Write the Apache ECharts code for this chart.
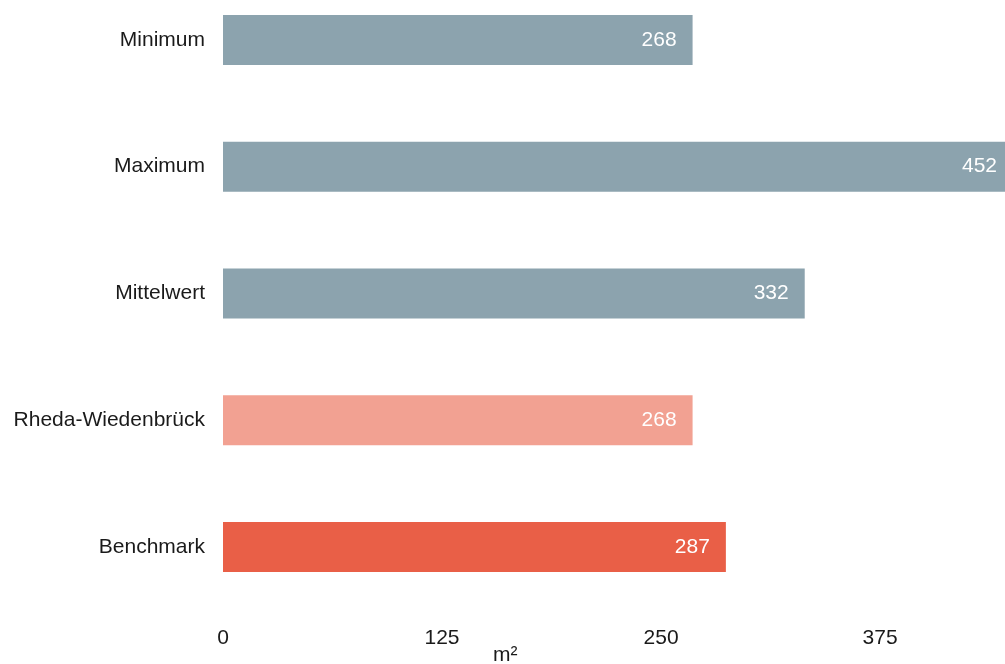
<!DOCTYPE html>
<html>
<head>
<meta charset="utf-8">
<script src="https://cdn.jsdelivr.net/npm/echarts@6/dist/echarts.min.js"></script>
<style>html,body{margin:0;padding:0;background:#fff;}#c{width:1005px;height:664px;}</style>
</head>
<body>
<div id="c"></div>
<script>
const categories = ["Minimum", "Maximum", "Mittelwert", "Rheda-Wiedenbrück", "Benchmark"];
const values = [268, 452, 332, 268, 287];
const barColors = ["#8CA3AE", "#8CA3AE", "#8CA3AE", "#F2A192", "#E95F47"];
const tickValues = [0, 125, 250, 375];
const axisName = "m²";

const FONT = '"Liberation Sans", Arial, Helvetica, sans-serif';
const X_MAX = 446.3;
const chart = echarts.init(document.getElementById('c'), null, {renderer: 'canvas'});
chart.setOption({
  animation: false,
  grid: {left: 223, right: 0, top: -23.5, bottom: 53.5, containLabel: false, outerBoundsMode: 'none'},
  xAxis: {
    type: 'value', min: 0, max: X_MAX, interval: 125,
    axisLine: {show: false}, axisTick: {show: false}, splitLine: {show: false},
    axisLabel: {
      color: '#1a1a1a', fontSize: 21, fontFamily: FONT, margin: 17,
      showMaxLabel: false,
      formatter: v => tickValues.includes(v) ? String(v) : ''
    }
  },
  yAxis: {
    type: 'category', data: categories, inverse: true,
    axisLine: {show: false}, axisTick: {show: false}, splitLine: {show: false},
    axisLabel: {color: '#1a1a1a', fontSize: 21, fontFamily: FONT, margin: 18, padding: [3, 0, 0, 0]}
  },
  graphic: [{
    type: 'text', left: 493, top: 645,
    style: {text: axisName, fill: '#1a1a1a', font: '21px ' + FONT}
  }],
  series: [{
    type: 'bar', barWidth: 50, clip: true,
    data: values.map((v, i) => ({
      value: v,
      itemStyle: {color: barColors[i]},
      label: v > X_MAX ? {distance: 8} : undefined
    })),
    label: {
      show: true, position: 'insideRight', distance: 16,
      color: '#ffffff', fontSize: 21, fontFamily: FONT, padding: [3, 0, 0, 0]
    }
  }]
});
</script>
</body>
</html>
